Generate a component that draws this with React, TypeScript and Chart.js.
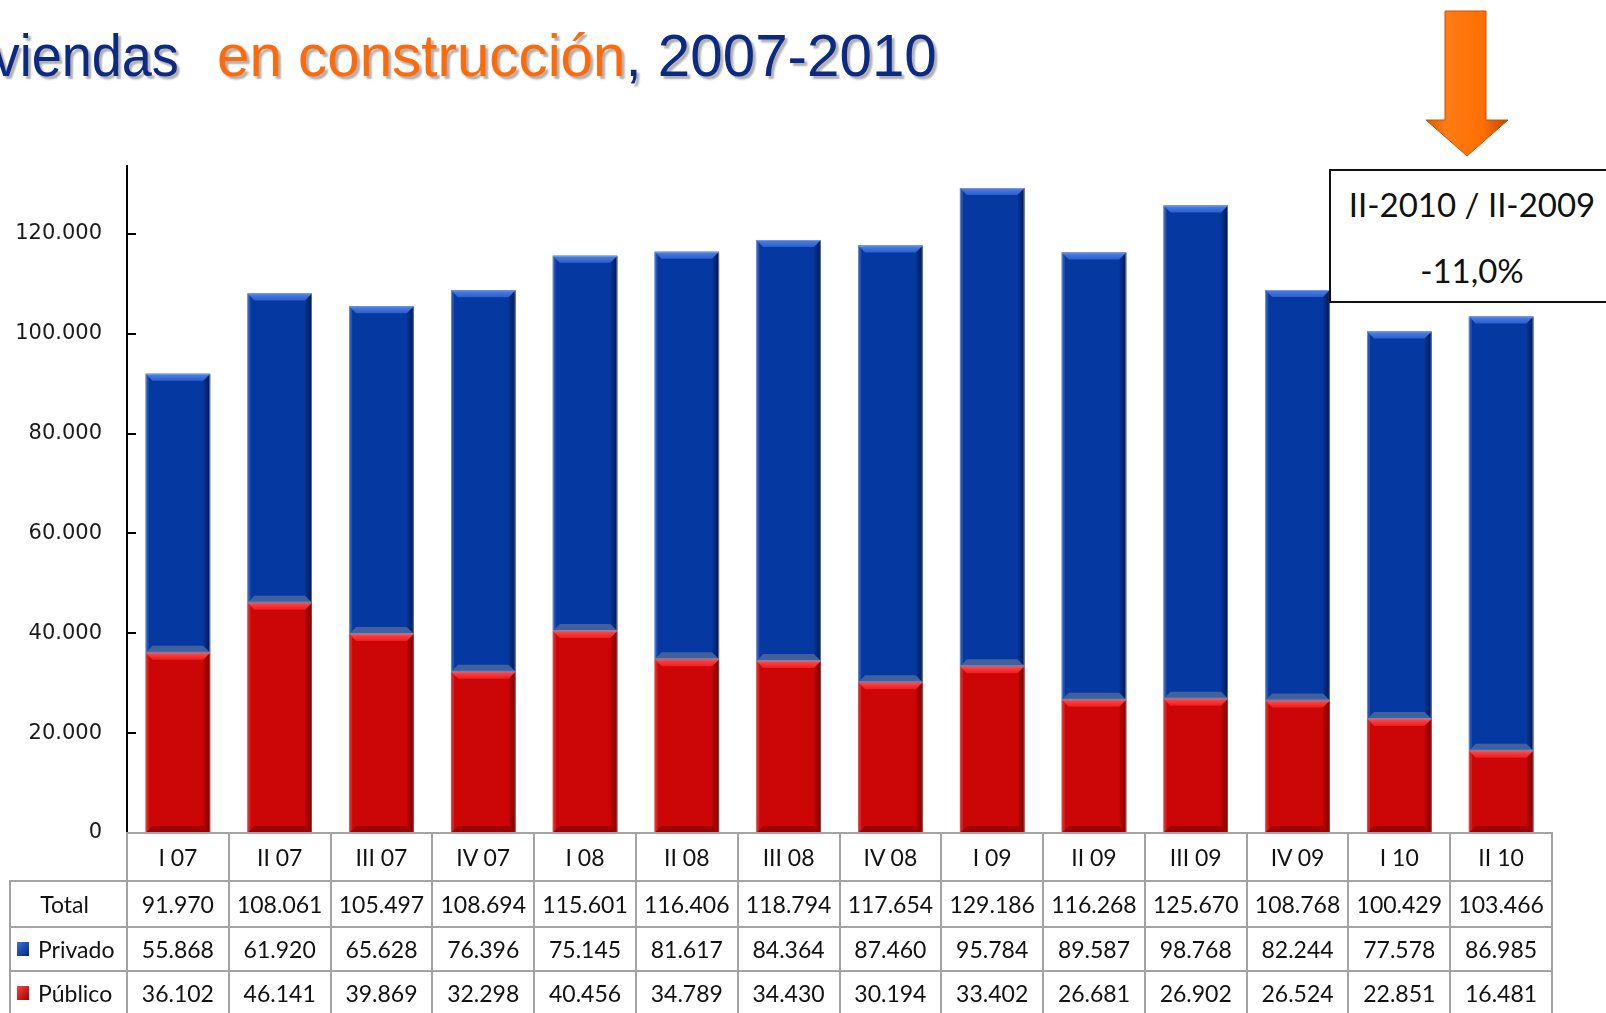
import React, { useEffect, useRef } from "react";
import { Chart, registerables } from "chart.js";

Chart.register(...registerables);

// ---------- data ----------
const categories = ["I 07", "II 07", "III 07", "IV 07", "I 08", "II 08", "III 08", "IV 08", "I 09", "II 09", "III 09", "IV 09", "I 10", "II 10"];
const totalValues = [91970, 108061, 105497, 108694, 115601, 116406, 118794, 117654, 129186, 116268, 125670, 108768, 100429, 103466];
const privadoValues = [55868, 61920, 65628, 76396, 75145, 81617, 84364, 87460, 95784, 89587, 98768, 82244, 77578, 86985];
const publicoValues = [36102, 46141, 39869, 32298, 40456, 34789, 34430, 30194, 33402, 26681, 26902, 26524, 22851, 16481];
const yTickValues = [0, 20000, 40000, 60000, 80000, 100000, 120000];
const yMax = 133600;
const seriesNames = ["Privado", "Público"];
const totalLabel = "Total";
const titleParts = ["viendas", "en construcción", ", 2007-2010"];
const noteLines = ["II-2010 / II-2009", "-11,0%"];

// ---------- styles ----------
const W = 1606;
const H = 1013;
const AREA_LEFT = 127;
const AREA_RIGHT = 1552;
const AREA_TOP = 166;
const AREA_BOTTOM = 833;
const CANVAS_H = 862;
const BLUE = "#0539a1";
const RED = "#cc0606";
const NAVY = "#0d2a82";
const ORANGE = "#ff6a08";
const GRID_GRAY = "#a3a3a3";
const TABLE_FONT = "Lato, 'Open Sans', sans-serif";

const fmt = (n: number) => String(n).replace(/\B(?=(\d{3})+(?!\d))/g, ".");

const tickMarkPlugin = {
  id: "tickMarks",
  afterDraw(chart: any) {
    const ys = chart.scales.y;
    const ctx = chart.ctx;
    const left = chart.chartArea.left;
    ctx.save();
    ctx.strokeStyle = "#000";
    ctx.lineWidth = 2;
    yTickValues.forEach((v) => {
      if (v === 0) return;
      const y = Math.round(ys.getPixelForValue(v));
      ctx.beginPath();
      ctx.moveTo(left, y);
      ctx.lineTo(left + 9, y);
      ctx.stroke();
    });
    ctx.restore();
  },
};

const bevelPlugin = {
  id: "bevel",
  afterDatasetsDraw(chart: any) {
    const ctx = chart.ctx;
    chart.data.datasets.forEach((ds: any, di: number) => {
      const meta = chart.getDatasetMeta(di);
      const isRed = ds.label === seriesNames[1];
      meta.data.forEach((el: any) => {
        const p = el.getProps(["x", "y", "base", "width"], true);
        const l = p.x - p.width / 2;
        const r = p.x + p.width / 2;
        const t = Math.min(p.y, p.base);
        const b = Math.max(p.y, p.base);
        const bv = 7;
        ctx.save();
        // right dark edge
        const gr = ctx.createLinearGradient(r - bv, 0, r, 0);
        gr.addColorStop(0, isRed ? "rgba(110,0,0,0.1)" : "rgba(0,20,70,0.1)");
        gr.addColorStop(1, isRed ? "rgba(90,0,0,0.85)" : "rgba(0,15,60,0.85)");
        ctx.fillStyle = gr;
        ctx.beginPath();
        ctx.moveTo(r, t);
        ctx.lineTo(r, b);
        ctx.lineTo(r - bv, b - bv);
        ctx.lineTo(r - bv, t + bv);
        ctx.closePath();
        ctx.fill();
        // left light edge
        ctx.fillStyle = isRed ? "rgba(255,120,120,0.25)" : "rgba(120,160,240,0.25)";
        ctx.beginPath();
        ctx.moveTo(l, t);
        ctx.lineTo(l + 3, t + 3);
        ctx.lineTo(l + 3, b - 3);
        ctx.lineTo(l, b);
        ctx.closePath();
        ctx.fill();
        // top highlight
        const gt = ctx.createLinearGradient(0, t, 0, t + bv);
        gt.addColorStop(0, isRed ? "#ff4a4a" : "#4d80e6");
        gt.addColorStop(1, isRed ? "#f01c1c" : "#2a5fcc");
        ctx.fillStyle = gt;
        ctx.beginPath();
        ctx.moveTo(l, t);
        ctx.lineTo(r, t);
        ctx.lineTo(r - bv, t + bv);
        ctx.lineTo(l + bv, t + bv);
        ctx.closePath();
        ctx.fill();
        // bottom band
        ctx.fillStyle = isRed ? "rgba(100,0,0,0.45)" : "#41609e";
        ctx.beginPath();
        ctx.moveTo(l, b);
        ctx.lineTo(r, b);
        ctx.lineTo(r - bv, b - bv);
        ctx.lineTo(l + bv, b - bv);
        ctx.closePath();
        ctx.fill();
        // faint outline
        ctx.strokeStyle = isRed ? "rgba(200,120,120,0.5)" : "rgba(150,170,215,0.6)";
        ctx.lineWidth = 1;
        ctx.strokeRect(l + 0.5, t + 0.5, p.width - 1, b - t - 1);
        ctx.restore();
      });
    });
  },
};

function BarChart() {
  const ref = useRef<HTMLCanvasElement | null>(null);
  useEffect(() => {
    if (!ref.current) return;
    const chart = new Chart(ref.current, {
      type: "bar",
      data: {
        labels: categories,
        datasets: [
          {
            label: seriesNames[1],
            data: publicoValues,
            backgroundColor: RED,
            borderWidth: 0,
            stack: "s",
            barPercentage: 0.634,
            categoryPercentage: 1,
          },
          {
            label: seriesNames[0],
            data: privadoValues,
            backgroundColor: BLUE,
            borderWidth: 0,
            stack: "s",
            barPercentage: 0.634,
            categoryPercentage: 1,
          },
        ],
      },
      options: {
        responsive: false,
        animation: false,
        events: [],
        layout: { padding: { left: 0, right: W - AREA_RIGHT, top: AREA_TOP, bottom: CANVAS_H - AREA_BOTTOM } },
        plugins: {
          legend: { display: false },
          tooltip: { enabled: false },
          title: { display: false },
        },
        scales: {
          x: { stacked: true, display: false },
          y: {
            stacked: true,
            min: 0,
            max: yMax,
            afterFit: (s: any) => {
              s.width = AREA_LEFT;
              s.paddingTop = 0;
              s.paddingBottom = 0;
            },
            afterBuildTicks: (s: any) => {
              s.ticks = yTickValues.map((v) => ({ value: v }));
            },
            ticks: {
              padding: 25,
              color: "#1a1a1a",
              font: { family: "'DejaVu Sans', Verdana, sans-serif", size: 21 },
              callback: (v: any) => fmt(Number(v)),
            },
            grid: { display: false, drawTicks: false },
            border: { display: true, color: "#000", width: 2 },
          },
        },
      },
      plugins: [bevelPlugin, tickMarkPlugin],
    } as any);
    return () => chart.destroy();
  }, []);
  return (
    <canvas
      ref={ref}
      width={W}
      height={CANVAS_H}
      style={{ position: "absolute", left: 0, top: 0, width: W, height: CANVAS_H }}
    />
  );
}

function DataTable() {
  const colW = (AREA_RIGHT - AREA_LEFT) / categories.length;
  const rowTops = [833, 881, 927, 971, 1015];
  const labelLeft = 10;
  const lines: React.ReactNode[] = [];
  rowTops.forEach((y, i) => {
    const x0 = i === 0 ? AREA_LEFT : labelLeft;
    lines.push(
      <div key={"h" + i} style={{ position: "absolute", left: x0 - 1, top: y - 1, width: AREA_RIGHT - x0 + 2, height: 2, background: GRID_GRAY }} />
    );
  });
  lines.push(
    <div key="vl" style={{ position: "absolute", left: labelLeft - 1, top: rowTops[1] - 1, width: 2, height: rowTops[4] - rowTops[1], background: GRID_GRAY }} />
  );
  for (let i = 0; i <= categories.length; i++) {
    const x = AREA_LEFT + i * colW;
    lines.push(
      <div key={"v" + i} style={{ position: "absolute", left: Math.round(x) - 1, top: rowTops[0] + 1, width: 2, height: rowTops[4] - rowTops[0], background: GRID_GRAY }} />
    );
  }
  const rows = [categories, totalValues.map(fmt), privadoValues.map(fmt), publicoValues.map(fmt)];
  const cells: React.ReactNode[] = [];
  rows.forEach((row, ri) => {
    row.forEach((txt, ci) => {
      cells.push(
        <div
          key={"c" + ri + "_" + ci}
          style={{
            position: "absolute",
            left: AREA_LEFT + ci * colW,
            top: rowTops[ri],
            width: colW,
            height: rowTops[ri + 1] - rowTops[ri],
            display: "flex",
            alignItems: "center",
            justifyContent: "center",
            fontFamily: TABLE_FONT,
            fontSize: 23,
            color: "#111",
            whiteSpace: "nowrap",
          }}
        >
          {txt}
        </div>
      );
    });
  });
  const labelCell = (ri: number, content: React.ReactNode, justify: string) => (
    <div
      key={"l" + ri}
      style={{
        position: "absolute",
        left: labelLeft,
        top: rowTops[ri],
        width: AREA_LEFT - labelLeft,
        height: rowTops[ri + 1] - rowTops[ri],
        display: "flex",
        alignItems: "center",
        justifyContent: justify,
        fontFamily: TABLE_FONT,
        fontSize: 23,
        color: "#111",
        whiteSpace: "nowrap",
      }}
    >
      {content}
    </div>
  );
  const key = (c1: string, c2: string) => (
    <span
      style={{
        display: "inline-block",
        width: 12,
        height: 14,
        marginLeft: 7,
        marginRight: 9,
        background: `linear-gradient(135deg, ${c1}, ${c2})`,
      }}
    />
  );
  cells.push(labelCell(1, <span style={{ marginRight: 8 }}>{totalLabel}</span>, "center"));
  cells.push(labelCell(2, <>{key("#3a6fe0", "#06277a")}<span>{seriesNames[0]}</span></>, "flex-start"));
  cells.push(labelCell(3, <>{key("#ff4040", "#a00000")}<span>{seriesNames[1]}</span></>, "flex-start"));
  return (
    <>
      {lines}
      {cells}
    </>
  );
}

function Title() {
  const common: React.CSSProperties = {
    position: "absolute",
    top: 26,
    fontFamily: "'Liberation Sans', Arial, sans-serif",
    fontSize: 60,
    lineHeight: "60px",
    whiteSpace: "pre",
    textShadow: "3px 3px 2px #b0b0b0",
  };
  return (
    <>
      <div style={{ ...common, right: W - 179, transform: "scaleX(0.9)", transformOrigin: "right top", color: NAVY }}>
        {titleParts[0]}
      </div>
      <div style={{ ...common, left: 217, transform: "scaleX(0.972)", transformOrigin: "left top" }}>
        <span style={{ color: ORANGE }}>{titleParts[1]}</span>
        <span style={{ color: NAVY }}>{titleParts[2]}</span>
      </div>
    </>
  );
}

function Arrow() {
  const ox = 1420;
  const pts = [
    [1445, 11],
    [1486, 11],
    [1486, 120],
    [1508, 120],
    [1467, 156],
    [1426, 120],
    [1445, 120],
  ]
    .map(([x, y]) => `${x - ox},${y}`)
    .join(" ");
  return (
    <svg style={{ position: "absolute", left: ox, top: 0 }} width={100} height={165}>
      <defs>
        <linearGradient id="arrowGrad" x1="0" y1="0" x2="1" y2="0">
          <stop offset="0" stopColor="#d85a00" />
          <stop offset="0.25" stopColor="#ff7c14" />
          <stop offset="0.7" stopColor="#ff6e00" />
          <stop offset="1" stopColor="#b84600" />
        </linearGradient>
      </defs>
      <polygon points={pts} fill="url(#arrowGrad)" stroke="#c75200" strokeWidth={1} />
    </svg>
  );
}

function NoteBox() {
  return (
    <div
      style={{
        position: "absolute",
        left: 1329,
        top: 169,
        width: 286,
        height: 134,
        boxSizing: "border-box",
        border: "2px solid #111",
        background: "#fff",
        fontFamily: TABLE_FONT,
        fontSize: 33,
        color: "#111",
      }}
    >
      <div style={{ position: "absolute", left: 0, right: 0, top: 13, height: 40, lineHeight: "40px", textAlign: "center", whiteSpace: "nowrap" }}>
        {noteLines[0]}
      </div>
      <div style={{ position: "absolute", left: 0, right: 0, top: 79, height: 40, lineHeight: "40px", textAlign: "center", whiteSpace: "nowrap" }}>
        {noteLines[1]}
      </div>
    </div>
  );
}

export default function App() {
  return (
    <div
      style={{
        position: "absolute",
        left: 0,
        top: 0,
        width: W,
        height: H,
        overflow: "hidden",
        background: "#fff",
      }}
    >
      <Title />
      <BarChart />
      <DataTable />
      <Arrow />
      <NoteBox />
    </div>
  );
}
